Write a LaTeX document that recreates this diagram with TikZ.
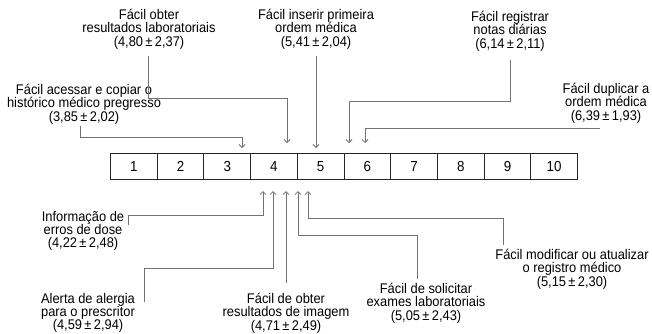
\documentclass[tikz,border=0pt]{standalone}
\usepackage{fontspec}
\setmainfont{Liberation Sans}[FakeStretch=0.92]
\usetikzlibrary{arrows.meta}
\begin{document}
\begin{tikzpicture}[x=1pt,y=-1pt,
  lbl/.style={align=center,inner sep=0pt,font=\fontsize{14}{13.3}\selectfont},
  cell/.style={draw=black!85,line width=1pt,minimum width=46.7pt,minimum height=26pt,
    inner sep=0pt,font=\fontsize{14.5}{14}\selectfont,anchor=north west},
  conn/.style={draw=black!55,line width=0.8pt,-{Straight Barb[length=3pt,width=6pt]}}]
\useasboundingbox (0,0) rectangle (652,333);
\fill[white] (0,0) rectangle (652,333);
% scale bar
\foreach \i in {1,...,10}
  \node[cell] (c\i) at ({110+(\i-1)*46.7},153) {\i};
% labels above
\node[lbl] (A) at (149,29) {Fácil obter\\resultados laboratoriais\\(4,80\,±\,2,37)};
\node[lbl] (B) at (316,29) {Fácil inserir primeira\\ordem médica\\(5,41\,±\,2,04)};
\node[lbl] (C) at (510,31) {Fácil registrar\\notas diárias\\(6,14\,±\,2,11)};
\node[lbl] (D) at (606,103) {Fácil duplicar a\\ordem médica\\(6,39\,±\,1,93)};
\node[lbl] (E) at (84,104) {Fácil acessar e copiar o\\histórico médico pregresso\\(3,85\,±\,2,02)};
% labels below
\node[lbl] (F) at (83,231) {Informação de\\erros de dose\\(4,22\,±\,2,48)};
\node[lbl] (G) at (88,313) {Alerta de alergia\\para o prescritor\\(4,59\,±\,2,94)};
\node[lbl] (H) at (286,313) {Fácil de obter\\resultados de imagem\\(4,71\,±\,2,49)};
\node[lbl] (I) at (426,303) {Fácil de solicitar\\exames laboratoriais\\(5,05\,±\,2,43)};
\node[lbl] (J) at (572,269) {Fácil modificar ou atualizar\\o registro médico\\(5,15\,±\,2,30)};
% arrow targets
\coordinate (tE) at (242,148);
\coordinate (tA) at (287,143);
\coordinate (tB) at (316,148);
\coordinate (tC) at (349,143);
\coordinate (tD) at (365,143);
\coordinate (tF) at (263,191);
\coordinate (tG) at (273,191);
\coordinate (tH) at (286,191);
\coordinate (tI) at (298,191);
\coordinate (tJ) at (308,191);
% connectors above
\draw[conn] ([xshift=-1pt,yshift=-7pt]A.south) -- ++(0,42) -| (tA);
\draw[conn] ([yshift=-7pt]B.south) -- (tB);
\draw[conn] ([yshift=-9pt]C.south) -- ++(0,41) -| (tC);
\draw[conn] ([xshift=-6pt,yshift=-5pt]D.south) -| (tD);
\draw[conn] ([xshift=-4pt,yshift=-2pt]E.south) -- ++(0,11) -| (tE);
% connectors below
\draw[conn] ([xshift=4pt,yshift=-14pt]F.north east) -- ++(0,-10) -| (tF);
\draw[conn] ([xshift=9pt,yshift=-9pt]G.north east) -- ++(0,-34) -| (tG);
\draw[conn] ([yshift=10pt]H.north) -- (tH);
\draw[conn] ([xshift=-9pt,yshift=4pt]I.north) -- ++(0,-44) -| (tI);
\draw[conn] ([xshift=8pt,yshift=4pt]J.north west) -- ++(0,-27) -| (tJ);
\end{tikzpicture}
\end{document}
